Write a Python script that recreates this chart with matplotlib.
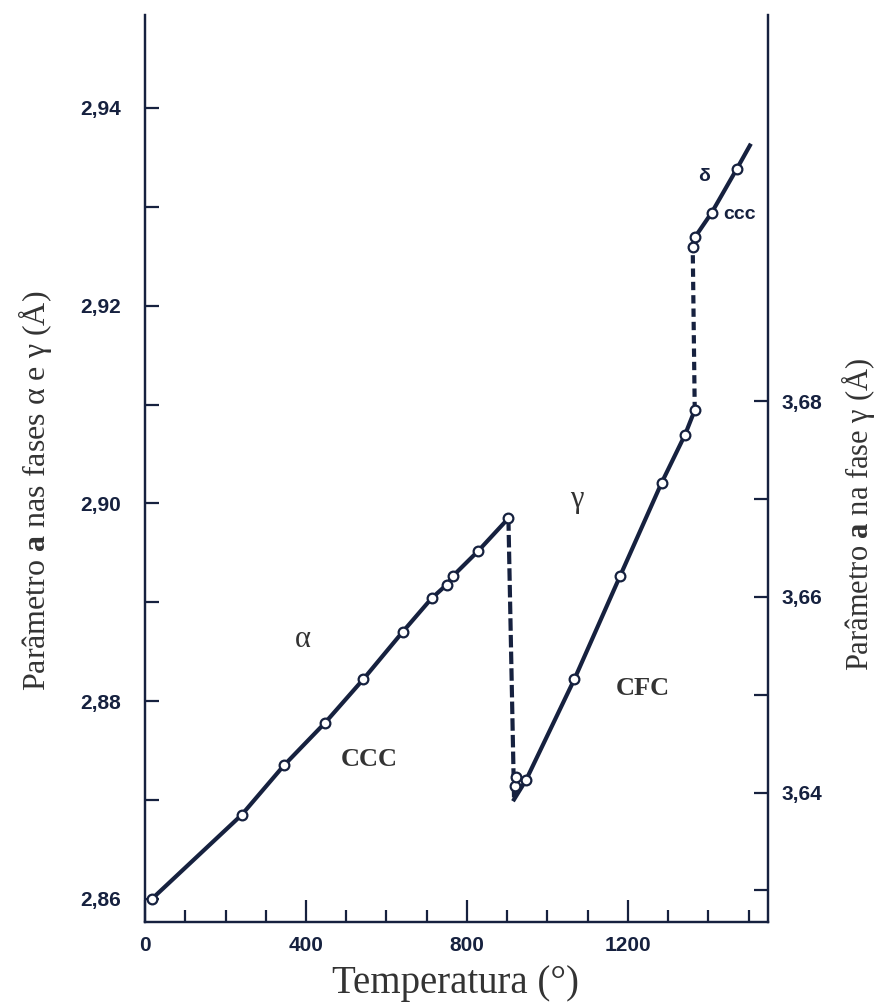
import matplotlib
matplotlib.use("Agg")
import matplotlib.pyplot as plt
from matplotlib.ticker import FixedLocator

# ---- data ----
alpha_T = [17, 240, 345, 447, 542, 640, 712, 750, 766, 828, 903]
alpha_a = [2.8600, 2.8685, 2.8735, 2.8778, 2.8822, 2.8870, 2.8904, 2.8918, 2.8927, 2.8952, 2.8985]

gamma_T = [920, 921, 947, 1067, 1180, 1284, 1342, 1366]
gamma_a = [3.6407, 3.6416, 3.6413, 3.6516, 3.6621, 3.6717, 3.6766, 3.6791]

delta_T = [1361, 1366, 1408, 1470]
delta_a = [2.9259, 2.9269, 2.9294, 2.9338]
delta_line_end_T = 1503
delta_line_end_a = 2.9362

gamma_line_start_T = 917
gamma_line_start_a = 3.6393

x_major = [0, 400, 800, 1200]
x_minor = [100, 200, 300, 500, 600, 700, 900, 1000, 1100, 1300, 1400, 1500]
left_major = [2.86, 2.88, 2.90, 2.92, 2.94]
left_minor = [2.87, 2.89, 2.91, 2.93]
right_major = [3.64, 3.66, 3.68]
right_minor = [3.63, 3.65, 3.67]

INK = "#16213f"
TXT = "#333333"

plt.rcParams['mathtext.fontset'] = 'custom'
plt.rcParams['mathtext.rm'] = 'Liberation Serif'
plt.rcParams['mathtext.bf'] = 'Liberation Serif:bold'

fig = plt.figure(figsize=(8.79, 10.07), dpi=100)
ax = fig.add_axes([0.165, 0.0847, 0.7087, 0.9004])
ax2 = ax.twinx()

ax.set_xlim(0, 1548)
ax.set_ylim(2.8577, 2.9494)
ax2.set_ylim(3.6268, 3.7195)

for a in (ax, ax2):
    for s in a.spines.values():
        s.set_color(INK)
        s.set_linewidth(1.6)
    a.spines['top'].set_visible(False)

tick_font = dict(family='Liberation Sans', weight='bold', size=15)

ax.xaxis.set_major_locator(FixedLocator(x_major))
ax.xaxis.set_minor_locator(FixedLocator(x_minor))
ax.set_xticklabels([str(v) for v in x_major], fontdict=tick_font, color=INK)
ax.yaxis.set_major_locator(FixedLocator(left_major))
ax.yaxis.set_minor_locator(FixedLocator(left_minor))
ax.set_yticklabels([f"{v:.2f}".replace('.', ',') for v in left_major], fontdict=tick_font, color=INK)
ax2.yaxis.set_major_locator(FixedLocator(right_major))
ax2.yaxis.set_minor_locator(FixedLocator(right_minor))
ax2.set_yticklabels([f"{v:.2f}".replace('.', ',') for v in right_major], fontdict=tick_font, color=INK)

ax.tick_params(axis='x', which='major', direction='in', length=16, width=1.6, color=INK, pad=10)
ax.tick_params(axis='x', which='minor', direction='in', length=9, width=1.6, color=INK)
ax.tick_params(axis='y', which='both', direction='in', length=10, width=1.6, color=INK, pad=17)
ax2.tick_params(axis='y', which='both', direction='in', length=10, width=1.6, color=INK, pad=10)

mk = dict(marker='o', markersize=7, markerfacecolor='white', markeredgecolor=INK, markeredgewidth=1.6)

# alpha (left axis)
ax.plot(alpha_T, alpha_a, color=INK, lw=3, zorder=3, **mk)

# gamma (right axis)
ax2.plot([gamma_line_start_T] + gamma_T[2:], [gamma_line_start_a] + gamma_a[2:], color=INK, lw=3, zorder=3)
ax2.plot(gamma_T, gamma_a, ls='none', zorder=4, **mk)

# delta (left axis)
ax.plot(delta_T + [delta_line_end_T], delta_a + [delta_line_end_a], color=INK, lw=3, zorder=3)
ax.plot(delta_T, delta_a, ls='none', zorder=4, **mk)

# transitions (dashed), connecting points on the two axes
def right_to_left(x, y):
    disp = ax2.transData.transform((x, y))
    return ax.transData.inverted().transform(disp)

g0 = right_to_left(gamma_line_start_T, gamma_line_start_a)
ax.plot([alpha_T[-1], g0[0]], [alpha_a[-1], g0[1]], color=INK, lw=3, dashes=(3, 1), zorder=2)
gt = right_to_left(gamma_T[-1], gamma_a[-1])
ax.plot([gt[0], delta_T[0]], [gt[1], delta_a[0]], color=INK, lw=3, dashes=(2, 1.2), zorder=2)

# annotations
ax.text(393, 2.8862, "α", fontsize=22, family='Liberation Serif', color=TXT, ha='center', va='center')
ax.text(557, 2.8741, "CCC", fontsize=19, family='Liberation Serif', weight='bold', color=TXT, ha='center', va='center')
ax2.text(1073, 3.6700, "γ", fontsize=22, family='Liberation Serif', color=TXT, ha='center', va='center')
ax2.text(1237, 3.6506, "CFC", fontsize=19, family='Liberation Serif', weight='bold', color=TXT, ha='center', va='center')
ax.text(1389, 2.9331, "δ", fontsize=14, family='Liberation Sans', weight='bold', color=INK, ha='center', va='center')
ax.text(1478, 2.9292, "ccc", fontsize=14, family='Liberation Sans', weight='bold', color=INK, ha='center', va='center')

fig.text(0.04, 0.513, r"Parâmetro $\mathbf{a}$ nas fases α e γ (Å)", rotation=90, fontsize=23,
         family='Liberation Serif', color=TXT, ha='center', va='center')
fig.text(0.976, 0.489, r"Parâmetro $\mathbf{a}$ na fase γ (Å)", rotation=90, fontsize=22,
         family='Liberation Serif', color=TXT, ha='center', va='center')
fig.text(0.518, 0.0238, "Temperatura (°)", fontsize=28, family='Liberation Serif', color=TXT,
         ha='center', va='center')

fig.savefig("out.png", dpi=100)
